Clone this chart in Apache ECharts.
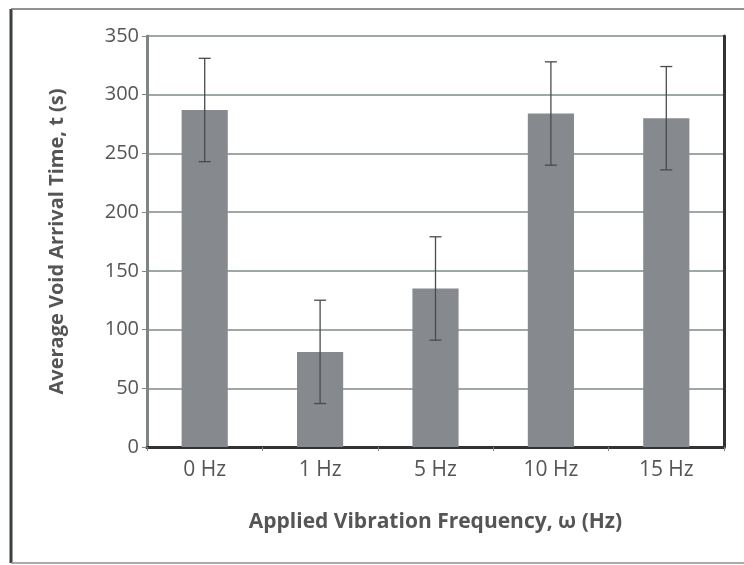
<!DOCTYPE html>
<html>
<head>
<meta charset="utf-8">
<script src="https://cdn.jsdelivr.net/npm/echarts@6/dist/echarts.min.js"></script>
<style>
  html, body { margin: 0; padding: 0; background: #fff; }
  #chart { width: 744px; height: 565px; }
</style>
</head>
<body>
<div id="chart"></div>
<script>
// Vibration frequency categories
const frequencies = ['0 Hz', '1 Hz', '5 Hz', '10 Hz', '15 Hz'];
// Mean void arrival time (s)
const arrivalTimes = [287, 81, 135, 284, 280];
// Error (± s)
const arrivalErrors = [44, 44, 44, 44, 44];
// Y axis ticks
const yTicks = [0, 50, 100, 150, 200, 250, 300, 350];

const chart = echarts.init(document.getElementById('chart'), null, { renderer: 'canvas' });

const fontFamily = '"Open Sans", Lato, sans-serif';
const textColor = '#555';

const errorData = frequencies.map((f, i) => [i, arrivalTimes[i] - arrivalErrors[i], arrivalTimes[i] + arrivalErrors[i]]);

chart.setOption({
  animation: false,
  backgroundColor: '#ffffff',
  grid: { left: 147, right: 20, top: 36, bottom: 118, containLabel: false },
  graphic: [
    { type: 'line', shape: { x1: 11, y1: 9, x2: 11, y2: 563 }, style: { stroke: '#3a403e', lineWidth: 3 } },
    { type: 'line', shape: { x1: 11, y1: 9, x2: 744, y2: 9 }, style: { stroke: '#6a6e6d', lineWidth: 1.5 } },
    { type: 'line', shape: { x1: 11, y1: 563, x2: 744, y2: 563 }, style: { stroke: '#8a8e8d', lineWidth: 1.5 } }
  ],
  xAxis: [
    {
      type: 'category',
      data: frequencies,
      axisLine: { lineStyle: { color: '#7f8584', width: 3 } },
      axisTick: { show: true, length: 4, lineStyle: { color: '#7f8584', width: 1 } },
      axisLabel: { color: textColor, fontSize: 21, fontFamily, margin: 13 },
      name: 'Applied Vibration Frequency, \u03c9 (Hz)',
      nameLocation: 'middle',
      nameGap: 65,
      nameTextStyle: { color: textColor, fontSize: 21, fontWeight: 'bold', fontFamily }
    },
    {
      type: 'category',
      position: 'top',
      data: frequencies,
      axisLine: { lineStyle: { color: '#333', width: 3 } },
      axisTick: { show: false },
      axisLabel: { show: false }
    }
  ],
  yAxis: [
    {
      type: 'value',
      min: 0,
      max: 350,
      interval: 50,
      axisLine: { show: true, lineStyle: { color: '#7f8584', width: 3 } },
      axisTick: { show: true, length: 5, lineStyle: { color: '#7f8584', width: 1 } },
      axisLabel: { color: textColor, fontSize: 20, fontFamily, margin: 8,
        formatter: v => yTicks.includes(v) ? String(v) : '' },
      splitLine: { show: true, lineStyle: { color: '#9ea8a7', width: 1.8 } },
      name: 'Average Void Arrival Time, t (s)',
      nameLocation: 'middle',
      nameGap: 80,
      nameTextStyle: { color: textColor, fontSize: 20, fontWeight: 'bold', fontFamily }
    },
    {
      type: 'value',
      position: 'right',
      min: 0,
      max: 350,
      interval: 50,
      axisLine: { show: true, lineStyle: { color: '#333', width: 3 } },
      axisTick: { show: false },
      axisLabel: { show: false },
      splitLine: { show: false }
    }
  ],
  series: [
    {
      type: 'bar',
      data: arrivalTimes,
      barWidth: '40%',
      itemStyle: { color: '#868a8e' },
      z: 2
    },
    {
      type: 'custom',
      data: errorData,
      z: 3,
      renderItem: function (params, api) {
        const x = api.value(0);
        const lo = api.coord([x, api.value(1)]);
        const hi = api.coord([x, api.value(2)]);
        const cap = 6;
        const st = { stroke: '#474b4b', lineWidth: 1.3 };
        return {
          type: 'group',
          children: [
            { type: 'line', shape: { x1: lo[0], y1: lo[1], x2: hi[0], y2: hi[1] }, style: st },
            { type: 'line', shape: { x1: hi[0] - cap, y1: hi[1], x2: hi[0] + cap, y2: hi[1] }, style: st },
            { type: 'line', shape: { x1: lo[0] - cap, y1: lo[1], x2: lo[0] + cap, y2: lo[1] }, style: st }
          ]
        };
      }
    }
  ]
});
</script>
</body>
</html>
